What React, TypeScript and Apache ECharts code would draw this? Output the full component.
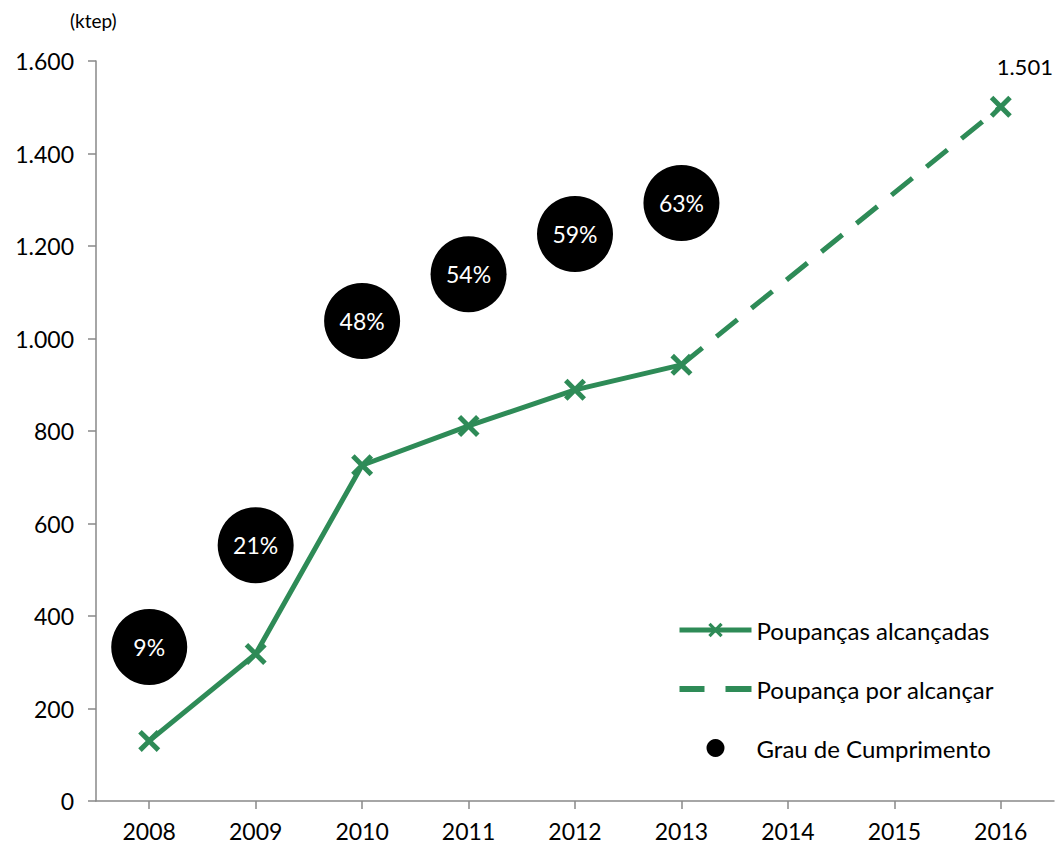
import React, { useEffect, useRef } from "react";
import * as echarts from "echarts";

const years = ["2008", "2009", "2010", "2011", "2012", "2013", "2014", "2015", "2016"];
const achieved = [130, 318, 726, 811, 889, 943, null, null, null];
const toAchieve = [null, null, null, null, null, 943, null, null, 1501];
const gradeY = [333, 553, 1038, 1139, 1226, 1293];
const gradeLabels = ["9%", "21%", "48%", "54%", "59%", "63%"];
const yTicks = [0, 200, 400, 600, 800, 1000, 1200, 1400, 1600];

const GREEN = "#2E8B57";
const FONT = "Lato";
const X_PATH =
  "path://M1.6,0 L5,3.4 L8.4,0 L10,1.6 L6.6,5 L10,8.4 L8.4,10 L5,6.6 L1.6,10 L0,8.4 L3.4,5 L0,1.6 Z";
const DASH_ICON = "path://M0,0H25V6H0Z M46,0H72V6H46Z";

export default function App() {
  const ref = useRef<HTMLDivElement>(null);
  useEffect(() => {
    if (!ref.current) return;
    const chart = echarts.init(ref.current, null, { renderer: "svg" });
    const fmt = (v: number) => (v >= 1000 ? String(v).replace(/(\d)(\d{3})$/, "$1.$2") : String(v));
    chart.setOption({
      animation: false,
      backgroundColor: "#ffffff",
      textStyle: { fontFamily: FONT },
      grid: { left: 96, right: 1, top: 61, bottom: 45, containLabel: false },
      graphic: [
        {
          type: "text",
          left: 70,
          top: 11,
          style: { text: "(ktep)", fontSize: 19, fontFamily: FONT, fill: "#000" },
        },
      ],
      legend: {
        orient: "vertical",
        left: 677,
        top: 618,
        padding: 0,
        itemWidth: 72,
        itemHeight: 18,
        itemGap: 35,
        textStyle: { fontSize: 24, color: "#000", fontFamily: FONT },
        data: [
          { name: "Poupanças alcançadas", lineStyle: { width: 5 } },
          { name: "Poupança por alcançar", icon: DASH_ICON },
          { name: "Grau de Cumprimento", icon: "circle", itemStyle: { color: "#000" } },
        ],
      },
      xAxis: {
        type: "category",
        data: years,
        boundaryGap: true,
        axisLine: { lineStyle: { color: "#898989", width: 1.5 } },
        axisTick: { show: true, alignWithLabel: true, length: 8, lineStyle: { color: "#898989", width: 1.5 } },
        axisLabel: { fontSize: 23, color: "#000", margin: 18, fontFamily: FONT },
        splitLine: { show: false },
      },
      yAxis: {
        type: "value",
        min: 0,
        max: yTicks[yTicks.length - 1],
        interval: 200,
        axisLine: { show: true, lineStyle: { color: "#898989", width: 1.5 } },
        axisTick: { show: true, length: 8, lineStyle: { color: "#898989", width: 1.5 } },
        axisLabel: { fontSize: 23, color: "#000", margin: 22, fontFamily: FONT, formatter: fmt },
        splitLine: { show: false },
      },
      series: [
        {
          name: "Poupança por alcançar",
          type: "line",
          data: toAchieve.map((v, i) =>
            v == null ? null : i === 5 ? { value: v, symbol: "none" } : v
          ),
          connectNulls: true,
          symbol: X_PATH,
          symbolSize: 22,
          itemStyle: { color: GREEN },
          lineStyle: { color: GREEN, width: 5, type: [27, 18], cap: "butt" },
          label: {
            show: true,
            position: "top",
            offset: [24, -13],
            fontSize: 22,
            color: "#000",
            fontFamily: FONT,
            formatter: (p: any) => (p.dataIndex === 8 ? fmt(p.value) : ""),
          },
          z: 2,
        },
        {
          name: "Poupanças alcançadas",
          type: "line",
          data: achieved,
          symbol: X_PATH,
          symbolSize: 22,
          showAllSymbol: true,
          itemStyle: { color: GREEN },
          lineStyle: { color: GREEN, width: 5 },
          z: 3,
        },
        {
          name: "Grau de Cumprimento",
          type: "scatter",
          data: gradeY.map((v, i) => [years[i], v]),
          symbol: "circle",
          symbolSize: 76,
          itemStyle: { color: "#000", opacity: 1 },
          label: {
            show: true,
            position: "inside",
            color: "#fff",
            fontSize: 23,
            fontFamily: FONT,
            formatter: (p: any) => gradeLabels[p.dataIndex],
          },
          z: 4,
        },
      ],
    });
    return () => chart.dispose();
  }, []);
  return (
    <div
      ref={ref}
      style={{ position: "fixed", left: 0, top: 0, width: 1055, height: 846 }}
    />
  );
}
